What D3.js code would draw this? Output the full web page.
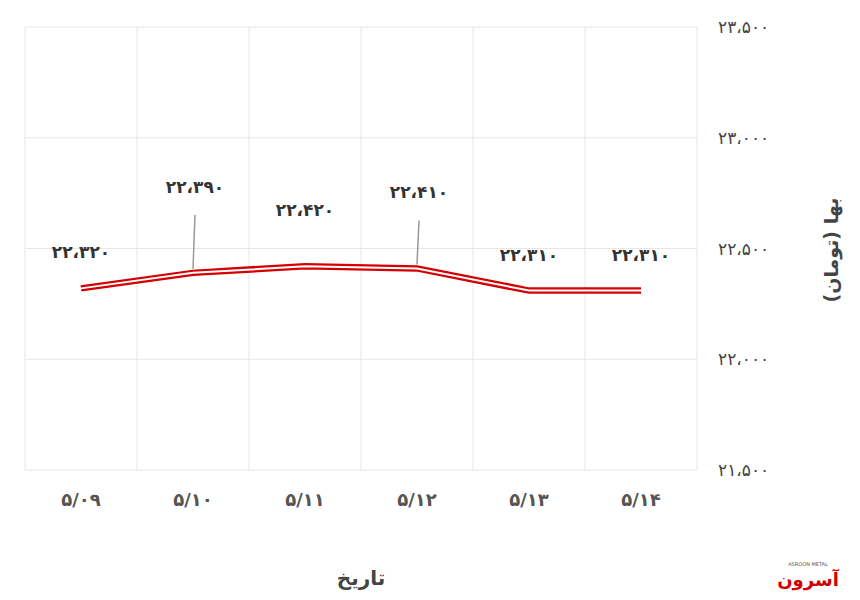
<!DOCTYPE html><html><head><meta charset="utf-8"><script src="https://cdn.jsdelivr.net/npm/d3@7"></script>
<style>body{margin:0;background:#fff}text{font-family:"DejaVu Sans",sans-serif}</style></head><body><svg id="c" width="860" height="600"></svg>
<script>
const categories=["5/09","5/10","5/11","5/12","5/13","5/14"];
const values=[22320,22390,22420,22410,22310,22310];
const yTicks=[21500,22000,22500,23000,23500];
const labelDy=[-30,-80,-50,-70,-30,-30];
const leader=[false,true,false,true,false,false];
const fa=s=>String(s).replace(/\d/g,d=>"۰۱۲۳۴۵۶۷۸۹"[d]);
const fmt=v=>fa(d3.format(",")(v)).replace(/,/g,"،");
const svg=d3.select("#c");
const x=d3.scaleBand().domain(categories).range([25,697]);
const y=d3.scaleLinear().domain([21500,23500]).range([470,27]);
const g=svg.append("g");
g.selectAll(".h").data(yTicks).join("line").attr("x1",25).attr("x2",697).attr("y1",d=>y(d)).attr("y2",d=>y(d)).attr("stroke","#e6e6e6");
const vx=categories.map(c=>x(c)).concat([697]);
g.selectAll(".v").data(vx).join("line").attr("x1",d=>d).attr("x2",d=>d).attr("y1",27).attr("y2",470).attr("stroke","#e6e6e6");
g.selectAll(".yt").data(yTicks).join("text").attr("x",718).attr("y",d=>y(d)+6).attr("font-size",17).attr("fill","#444").text(fmt);
g.selectAll(".xt").data(categories).join("text").attr("x",d=>x(d)+x.bandwidth()/2).attr("y",506).attr("text-anchor","middle").attr("font-size",18).attr("font-weight","bold").attr("fill","#555").text(d=>fa(d));
const cx=d=>x(d)+x.bandwidth()/2;
const line=d3.line().x((d,i)=>cx(categories[i])).y(d=>y(d));
g.append("path").attr("d",line(values)).attr("fill","none").attr("stroke","#d40000").attr("stroke-width",6.5);
g.append("path").attr("d",line(values)).attr("fill","none").attr("stroke","#fff").attr("stroke-width",2);
values.forEach((v,i)=>{const px=cx(categories[i]),py=y(v);
 if(leader[i]) g.append("line").attr("x1",px).attr("x2",px+2).attr("y1",py-4).attr("y2",py+labelDy[i]+22).attr("stroke","#999").attr("stroke-width",1.5);
 g.append("text").attr("x",px+(leader[i]?2:0)).attr("y",py+labelDy[i]).attr("text-anchor","middle").attr("font-size",17).attr("font-weight","bold").attr("fill","#333").text(fmt(v));});
g.append("text").attr("transform","translate(838,250) rotate(-90)").attr("text-anchor","middle").attr("font-size",19).attr("font-weight","bold").attr("fill","#444").text("بها (تومان)");
g.append("text").attr("x",361).attr("y",585).attr("text-anchor","middle").attr("font-size",20).attr("font-weight","bold").attr("fill","#444").text("تاریخ");
g.append("text").attr("x",808).attr("y",586).attr("text-anchor","middle").attr("font-size",18).attr("font-weight","bold").attr("fill","#d40000").text("آسرون");
g.append("text").attr("x",808).attr("y",566).attr("text-anchor","middle").attr("font-size",5).attr("fill","#555").text("ASROON METAL");
</script></body></html>
